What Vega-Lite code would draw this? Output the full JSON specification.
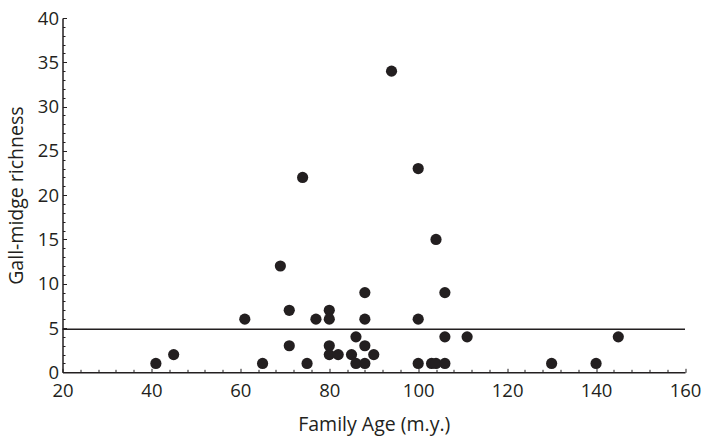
{
  "$schema": "https://vega.github.io/schema/vega-lite/v6.json",
  "width": 622.5,
  "height": 354.3,
  "autosize": {"type": "none"},
  "padding": {"left": 62.5, "top": 18, "right": 18, "bottom": 63.7},
  "background": "white",
  "config": {
    "view": {"stroke": null},
    "font": "Open Sans",
    "axis": {
      "grid": false,
      "domainColor": "#231f20",
      "domainWidth": 1.5,
      "tickColor": "#231f20",
      "tickWidth": 1,
      "labelColor": "#231f20",
      "titleColor": "#231f20",
      "labelFont": "Open Sans",
      "titleFont": "Open Sans",
      "labelFontSize": 18.5,
      "titleFontSize": 19.5,
      "titleFontWeight": "normal",
      "labelOverlap": false,
      "labelFlush": false,
      "labelBound": false
    }
  },
  "datasets": {
    "galls": [
      {"age": 41, "richness": 1}, {"age": 45, "richness": 2},
      {"age": 61, "richness": 6}, {"age": 65, "richness": 1},
      {"age": 69, "richness": 12}, {"age": 71, "richness": 7},
      {"age": 71, "richness": 3}, {"age": 74, "richness": 22},
      {"age": 75, "richness": 1}, {"age": 77, "richness": 6},
      {"age": 80, "richness": 7}, {"age": 80, "richness": 6},
      {"age": 80, "richness": 3}, {"age": 80, "richness": 2},
      {"age": 82, "richness": 2}, {"age": 85, "richness": 2},
      {"age": 86, "richness": 4}, {"age": 86, "richness": 1},
      {"age": 88, "richness": 9}, {"age": 88, "richness": 6},
      {"age": 88, "richness": 3}, {"age": 88, "richness": 1},
      {"age": 90, "richness": 2}, {"age": 94, "richness": 34},
      {"age": 100, "richness": 23}, {"age": 100, "richness": 6},
      {"age": 100, "richness": 1}, {"age": 103, "richness": 1},
      {"age": 104, "richness": 1}, {"age": 104, "richness": 15},
      {"age": 106, "richness": 1}, {"age": 106, "richness": 9},
      {"age": 106, "richness": 4}, {"age": 111, "richness": 4},
      {"age": 130, "richness": 1}, {"age": 140, "richness": 1},
      {"age": 145, "richness": 4}
    ],
    "reference": [{"richness": 4.85}]
  },
  "layer": [
    {
      "data": {"name": "galls"},
      "mark": {"type": "point", "filled": true, "shape": "circle", "size": 125, "color": "#231f20", "opacity": 1},
      "encoding": {
        "x": {
          "field": "age", "type": "quantitative",
          "scale": {"domain": [20, 160], "nice": false, "zero": false},
          "axis": {
            "title": "Family Age (m.y.)",
            "values": [20,24,28,32,36,40,44,48,52,56,60,64,68,72,76,80,84,88,92,96,100,104,108,112,116,120,124,128,132,136,140,144,148,152,156,160],
            "tickCount": 200,
            "format": "d",
            "labelExpr": "datum.value % 20 === 0 ? datum.label : ''",
            "labelOverlap": false,
            "tickSize": {"condition": {"test": "datum.value % 20 === 0", "value": -4}, "value": -3},
            "labelPadding": 13,
            "titlePadding": 15
          }
        },
        "y": {
          "field": "richness", "type": "quantitative",
          "scale": {"domain": [0, 40], "nice": false},
          "axis": {
            "title": "Gall-midge richness",
            "values": [0,1,2,3,4,5,6,7,8,9,10,11,12,13,14,15,16,17,18,19,20,21,22,23,24,25,26,27,28,29,30,31,32,33,34,35,36,37,38,39,40],
            "tickCount": 200,
            "format": "d",
            "labelExpr": "datum.value % 5 === 0 ? datum.label : ''",
            "labelOverlap": false,
            "tickSize": {"condition": {"test": "datum.value % 5 === 0", "value": -4}, "value": -2.5},
            "labelPadding": 8,
            "titlePadding": 11
          }
        }
      }
    },
    {
      "data": {"name": "reference"},
      "mark": {"type": "rule", "color": "#231f20", "strokeWidth": 1.5},
      "encoding": {
        "y": {"field": "richness", "type": "quantitative"}
      }
    }
  ]
}
